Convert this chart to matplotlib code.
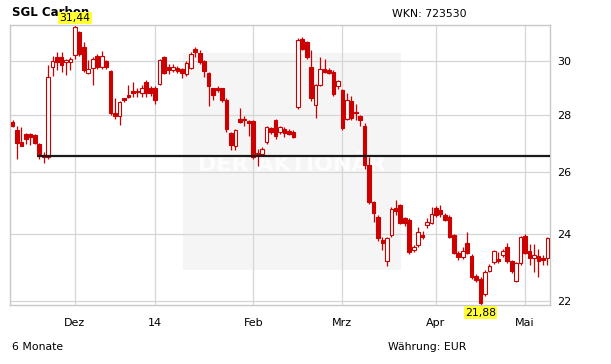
import matplotlib
matplotlib.use('Agg')
import matplotlib.pyplot as plt
from matplotlib.patches import Rectangle
from matplotlib.ticker import FixedLocator, FixedFormatter, NullLocator

# daily candles, Nov 12 2013 .. May 9 2014 (trading days)
opens = [27.75, 27.45, 27.03, 27.30, 27.30, 27.27, 26.95, 26.57, 26.52, 29.77,
         30.15, 30.15, 29.98, 29.98, 30.25, 31.15, 30.55, 29.55, 29.75, 30.20,
         29.77, 30.00, 29.62, 28.06, 27.97, 28.60, 28.72, 28.88, 28.88, 28.80,
         29.22, 29.00, 29.00, 29.15, 30.15, 29.77, 29.66, 29.73, 29.70, 29.50,
         29.75, 30.50, 30.32, 30.00, 29.55, 28.98, 29.00, 28.98, 28.55, 27.35,
         26.88, 27.85, 27.82, 27.78, 27.78, 26.62, 26.60, 27.03, 27.52, 27.81,
         27.38, 27.50, 27.42, 27.40, 28.28, 30.88, 30.75, 29.77, 28.35, 29.09,
         29.70, 29.66, 29.60, 29.05, 28.91, 27.85, 28.50, 28.10, 27.95, 27.60,
         26.23, 25.00, 24.53, 23.82, 23.18, 23.97, 24.81, 24.91, 24.50, 24.44,
         23.51, 23.66, 23.97, 24.28, 24.35, 24.81, 24.75, 24.59, 24.53, 23.97,
         23.42, 23.30, 23.72, 23.33, 22.73, 22.65, 22.22, 22.88, 23.15, 23.24,
         23.36, 23.60, 23.18, 22.60, 23.12, 23.94, 23.48, 23.27, 23.33, 23.27,
         23.27]
highs = [27.80, 27.60, 27.55, 27.35, 27.35, 27.30, 27.00, 26.70, 29.85, 30.20,
         30.35, 30.35, 30.10, 30.15, 31.44, 31.20, 30.75, 30.05, 30.15, 30.30,
         30.40, 30.05, 29.65, 28.60, 28.50, 28.62, 29.10, 29.20, 29.00, 29.10,
         29.30, 29.05, 29.05, 30.10, 30.20, 29.90, 29.90, 29.80, 29.75, 30.00,
         30.38, 30.55, 30.45, 30.05, 29.60, 29.00, 29.05, 29.00, 28.60, 27.40,
         27.50, 28.25, 27.95, 27.82, 27.82, 26.80, 26.85, 27.60, 27.55, 27.85,
         27.60, 27.55, 27.50, 27.45, 30.90, 30.95, 30.80, 30.44, 29.15, 30.15,
         30.10, 29.75, 29.65, 29.30, 28.95, 28.80, 28.70, 28.40, 28.00, 27.70,
         26.50, 25.05, 24.60, 23.90, 23.92, 24.85, 25.07, 24.95, 24.55, 24.50,
         23.65, 24.22, 24.10, 24.50, 24.85, 24.90, 24.91, 24.65, 24.60, 24.00,
         23.48, 23.60, 24.05, 23.40, 22.78, 22.70, 22.90, 23.10, 23.52, 23.45,
         23.55, 23.72, 23.20, 23.15, 23.95, 24.00, 23.70, 23.70, 23.55, 23.35,
         23.92]
lows = [27.55, 26.45, 26.88, 26.95, 26.92, 26.95, 26.45, 26.30, 26.45, 29.45,
        29.65, 29.60, 29.47, 29.66, 30.10, 30.20, 29.58, 29.50, 29.09, 29.70,
        29.70, 29.70, 28.00, 27.85, 27.63, 28.45, 28.60, 28.65, 28.65, 28.65,
        28.65, 28.70, 28.38, 29.10, 29.50, 29.50, 29.60, 29.55, 29.35, 29.45,
        29.70, 30.15, 29.90, 29.40, 28.30, 28.55, 28.85, 28.45, 27.40, 26.75,
        26.75, 27.70, 27.60, 27.25, 26.45, 26.20, 26.55, 26.95, 27.30, 27.15,
        27.30, 27.20, 27.28, 27.18, 28.20, 30.45, 30.10, 28.50, 27.88, 29.05,
        29.55, 29.50, 28.70, 28.95, 27.45, 27.80, 27.80, 27.80, 27.60, 26.10,
        24.95, 24.38, 23.80, 23.51, 23.03, 23.90, 24.60, 24.30, 24.25, 23.40,
        23.45, 23.60, 23.85, 24.20, 24.30, 24.55, 24.55, 24.40, 23.88, 23.38,
        23.20, 23.25, 23.38, 22.65, 22.55, 21.88, 22.15, 22.85, 23.10, 23.12,
        23.30, 23.12, 22.82, 22.55, 23.05, 23.38, 23.05, 22.85, 22.72, 23.05,
        23.05]
closes = [27.60, 27.00, 26.90, 27.12, 27.20, 27.00, 26.60, 26.50, 29.40, 30.00,
          29.97, 29.86, 30.05, 30.08, 31.35, 30.28, 29.66, 29.70, 30.08, 29.77,
          30.20, 29.77, 28.05, 27.97, 28.45, 28.53, 28.65, 28.80, 28.82, 28.97,
          28.80, 28.80, 28.53, 30.05, 29.55, 29.66, 29.77, 29.62, 29.55, 29.95,
          30.30, 30.35, 29.97, 29.62, 29.05, 28.72, 28.92, 28.53, 27.48, 26.92,
          27.45, 27.75, 27.85, 27.70, 26.52, 26.60, 26.80, 27.55, 27.38, 27.24,
          27.55, 27.35, 27.32, 27.22, 30.84, 30.50, 30.15, 28.60, 29.10, 29.70,
          29.60, 29.55, 28.75, 29.24, 27.52, 28.53, 27.88, 28.05, 27.81, 26.23,
          25.00, 24.65, 23.88, 23.73, 23.88, 24.78, 24.72, 24.34, 24.34, 23.45,
          23.60, 24.06, 23.92, 24.38, 24.62, 24.59, 24.62, 24.44, 23.92, 23.42,
          23.30, 23.48, 23.42, 22.70, 22.62, 21.95, 22.85, 23.03, 23.48, 23.18,
          23.48, 23.18, 22.88, 23.12, 23.91, 23.42, 23.27, 23.36, 23.18, 23.21,
          23.88]

support = 26.53
support_from = 5.5

month_idx = [14, 32, 54, 74, 95, 115]
month_labels = ['Dez', '14', 'Feb', 'Mrz', 'Apr', 'Mai']
price_ticks = [22, 24, 26, 28, 30]

RED = '#cc0000'
W, H = 611, 364


def fx(px):
    return px / W


def fy(py):
    return 1 - py / H


def main():
    fig = plt.figure(figsize=(W / 100, H / 100), dpi=100)
    ax = fig.add_axes([fx(10.3), fy(305), fx(550.3) - fx(10.3), fy(25) - fy(305)])
    ax.set_yscale('log')
    ax.set_xlim(-0.5, len(opens) - 0.35)
    ax.set_ylim(21.9, 31.44)

    # watermark box
    ax.add_patch(Rectangle((0.32, 0.125), 0.404, 0.775, transform=ax.transAxes,
                           facecolor='#f5f5f5', edgecolor='none', zorder=0))
    ax.text(0.522, 0.5, 'DER AKTIONÄR', transform=ax.transAxes, ha='center', va='center',
            fontsize=16, fontweight='bold', color='#fdfdfd', zorder=0.6)

    ax.yaxis.set_major_locator(FixedLocator(price_ticks))
    ax.yaxis.set_major_formatter(FixedFormatter([str(t) for t in price_ticks]))
    ax.yaxis.set_minor_locator(NullLocator())
    ax.xaxis.set_major_locator(FixedLocator(month_idx))
    ax.xaxis.set_major_formatter(FixedFormatter(month_labels))
    ax.yaxis.tick_right()
    ax.tick_params(axis='y', length=0, pad=5, labelsize=8)
    ax.tick_params(axis='x', length=0, pad=9.5, labelsize=8)
    ax.grid(True, color='#d6d6d6', lw=0.9, zorder=0.5)
    ax.set_axisbelow(True)
    for sp in ax.spines.values():
        sp.set_color('#c8c8c8')
        sp.set_linewidth(1)

    # candles
    x = list(range(len(opens)))
    ax.vlines(x, lows, highs, color=RED, lw=0.9, zorder=2)
    for i in x:
        o, c = opens[i], closes[i]
        lo, hi = min(o, c), max(o, c)
        if hi - lo < 0.04:
            hi = lo + 0.04
        up = c > o
        ax.bar(i, hi - lo, bottom=lo, width=0.82,
               color='white' if up else RED, edgecolor=RED, lw=0.8, zorder=3)

    # support line
    ax.hlines(support, support_from, len(opens) - 0.35, color='#1a1a1a', lw=1.6, zorder=4)

    # high / low markers
    i_hi = highs.index(max(highs))
    i_lo = lows.index(min(lows))
    box = dict(boxstyle='square,pad=0.12', facecolor='#ffff33', edgecolor='none')
    ax.annotate(f'{max(highs):.2f}'.replace('.', ','), (i_hi, max(highs)), xytext=(0, 1.5),
                textcoords='offset points', ha='center', va='bottom', fontsize=7.8,
                bbox=box, annotation_clip=False, zorder=5)
    ax.annotate(f'{min(lows):.2f}'.replace('.', ','), (i_lo, min(lows)), xytext=(0, -1.5),
                textcoords='offset points', ha='center', va='top', fontsize=7.8,
                bbox=box, annotation_clip=False, zorder=5)

    # header/footer texts sit under the axes so the yellow label covers the title
    fig.text(fx(12), fy(12), 'SGL Carbon', fontsize=8.5, fontweight='bold', va='center', zorder=-1)
    fig.text(fx(392), fy(14), 'WKN: 723530', fontsize=7.8, va='center', zorder=-1)
    fig.text(fx(12), fy(347), '6 Monate', fontsize=7.8, va='center', zorder=-1)
    fig.text(fx(388), fy(347), 'Währung: EUR', fontsize=7.8, va='center', zorder=-1)

    fig.savefig('out.png', dpi=100)


if __name__ == '__main__':
    main()
